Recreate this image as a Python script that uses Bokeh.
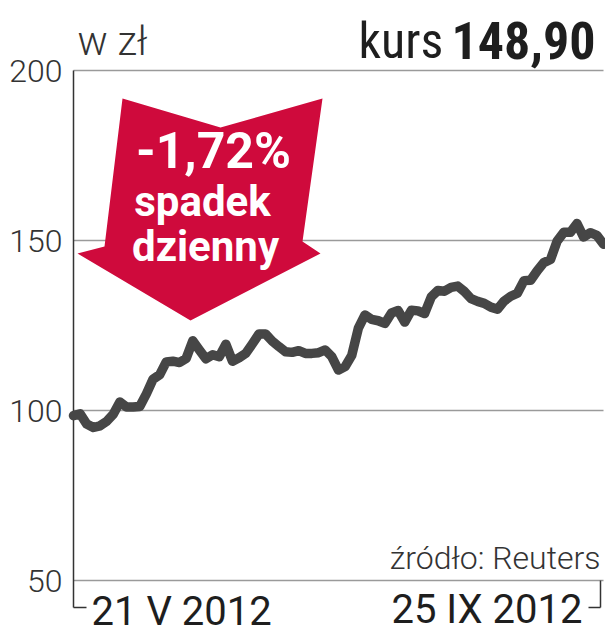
from bokeh.plotting import figure
from bokeh.models import Range1d
from bokeh.core.properties import value
from bokeh.embed import file_html
from bokeh.resources import INLINE

# ---- data ----
prices = [98.5, 99, 96, 95, 95.5, 96.8, 98.9, 102.5, 101, 101, 101.2, 104.9, 109.2, 110.5,
          114.3, 114.5, 114.1, 115.3, 120.5, 117.8, 115.2, 116.4, 115.8, 119.5, 114.5, 115.5,
          116.8, 119.6, 122.5, 122.5, 120.4, 118.8, 117.3, 117.1, 117.6, 116.8, 116.8, 117,
          117.8, 115.8, 111.9, 112.9, 116.2, 124.2, 128.1, 126.8, 126.4, 125.6, 128.7, 129.4,
          126, 129.5, 129.3, 128.5, 133.4, 135.3, 135.1, 136.2, 136.6, 135, 132.9, 132.1,
          131.5, 130.4, 129.8, 132.2, 133.6, 134.5, 138.2, 138.3, 141.1, 143.5, 144.4, 149.8,
          152.4, 152.4, 155, 151, 152.3, 151.5, 148.9]
sessions = list(range(len(prices)))
y_ticks = [50, 100, 150, 200]
y_tick_labels = ["50", "100", "150", "200"]
start_label = "21 V 2012"
end_label = "25 IX 2012"
unit_label = "w zł"
kurs_label = "kurs"
kurs_value = "148,90"
change_label = "-1,72%"
change_words = ["spadek", "dzienny"]
source_label = "źródło: Reuters"

# ---- styling ----
F_REG = "Roboto"
F_LIGHT = "Roboto Light, Roboto"
F_COND = "Roboto Condensed, Roboto"
RED = "#cf0a3c"
LINE = "#464646"
GRID = "#9a9a9a"
AXIS = "#333333"
DARK = "#1e1e1e"

W, H = 605, 636
X0_PX, X1_PX = 73, 603          # first / last session on screen
Y50_PX, PX_PER_UNIT = 580, 3.4  # value 50 on screen, px per unit
n_last = sessions[-1]
spx = (X1_PX - X0_PX) / n_last


def dx(px):
    return (px - X0_PX) / spx


def dy(py):
    return y_ticks[0] + (Y50_PX - py) / PX_PER_UNIT


p = figure(width=W, height=H, output_backend="svg", toolbar_location=None,
           x_range=Range1d(dx(0), dx(W)), y_range=Range1d(dy(H), dy(0)),
           x_axis_location=None, y_axis_location=None,
           min_border=0, min_border_left=0, min_border_right=0,
           min_border_top=0, min_border_bottom=0)
p.outline_line_color = None
p.xgrid.visible = False
p.ygrid.visible = False
p.background_fill_color = "white"
p.border_fill_color = "white"

# horizontal reference lines
p.segment(x0=[0] * len(y_ticks), x1=[n_last] * len(y_ticks), y0=y_ticks, y1=y_ticks,
          line_color=GRID, line_width=1.5)

# left axis line + bottom brackets
y_br = dy(607)
p.segment(x0=[0, 0, dx(600), dx(588)], x1=[0, dx(86), dx(600), dx(600)],
          y0=[y_ticks[-1], y_br, y_ticks[0], y_br], y1=[y_br, y_br, y_br, y_br],
          line_color=AXIS, line_width=1.5)

# y tick labels
p.text(x=[0] * len(y_ticks), y=y_ticks, text=y_tick_labels, x_offset=-11,
       text_align="right", text_baseline="middle", text_font=value(F_LIGHT),
       text_font_size="32px", text_color="#333333")

# red arrow annotation
arrow_px = [(122, 98), (220, 127), (322, 98), (302, 241), (320, 253), (190, 320), (77, 253), (104, 246)]
p.patch([dx(a) for a, b in arrow_px], [dy(b) for a, b in arrow_px], fill_color=RED, line_color=None)

# price line
p.line(sessions, prices, line_width=9.5, line_color=LINE, line_join="round", line_cap="round")


def lab(text, px, base_py, size, font=F_REG, style="normal", color=DARK, align="left"):
    # place by the text's vertical middle: baseline minus ~0.34 em
    mid = base_py - 0.342 * size
    p.text(x=[dx(px)], y=[dy(mid)], text=[text], text_font=value(font),
           text_font_size=f"{size}px", text_font_style=style, text_color=color,
           text_align=align, text_baseline="middle")


lab(change_label, 213, 168, 50, style="bold", color="white", align="center")
lab(change_words[0], 202, 215, 42, style="bold", color="white", align="center")
lab(change_words[1], 205, 260, 42, style="bold", color="white", align="center")

lab(unit_label, 77, 55, 40, font=F_LIGHT, color="#333333")
lab(kurs_value, 595, 58, 52, font=F_COND, style="bold", align="right")
lab(kurs_label, 358, 58, 50, font=F_COND)
lab(source_label, 600, 568, 32, font=F_LIGHT, color="#333333", align="right")
lab(start_label, 91, 625, 40)
lab(end_label, 582, 623, 40, align="right")

open("out.html", "w").write(file_html(p, INLINE))
